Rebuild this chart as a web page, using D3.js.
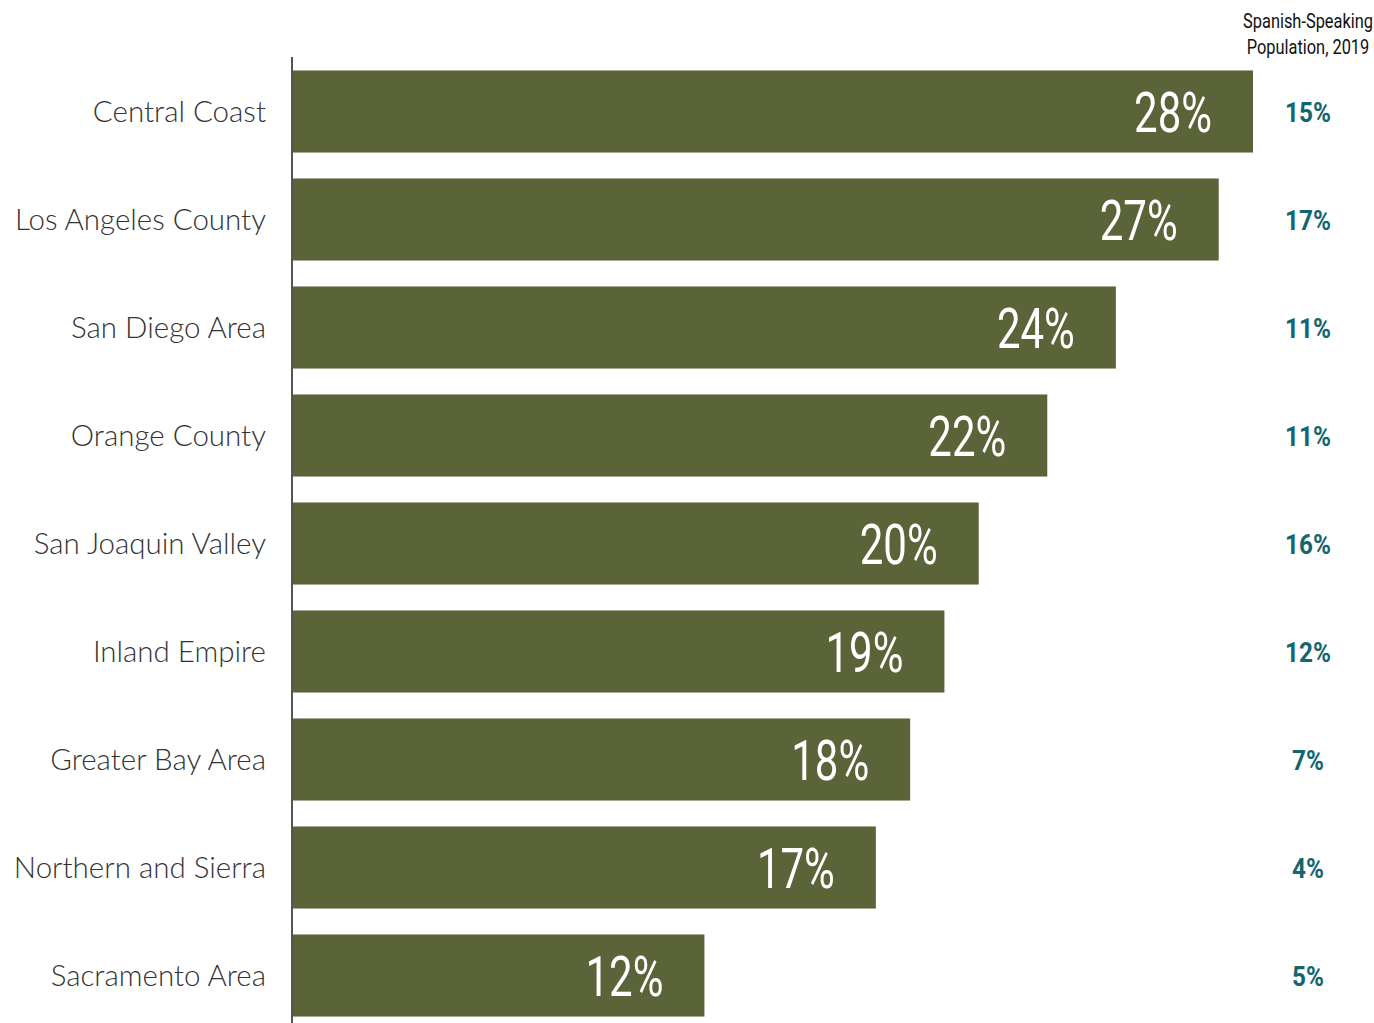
<!DOCTYPE html>
<html>
<head>
<meta charset="utf-8">
<script src="https://cdn.jsdelivr.net/npm/d3@7"></script>
<style>
  body { margin: 0; background: #fff; }
  svg { display: block; }
</style>
</head>
<body>
<div id="chart"></div>
<script>
// regions, share value, Spanish-speaking population
const regions = ["Central Coast", "Los Angeles County", "San Diego Area", "Orange County",
  "San Joaquin Valley", "Inland Empire", "Greater Bay Area", "Northern and Sierra", "Sacramento Area"];
const shares = [28, 27, 24, 22, 20, 19, 18, 17, 12];
const spanishPop = [15, 17, 11, 11, 16, 12, 7, 4, 5];
const sideTitle = ["Spanish-Speaking", "Population, 2019"];

const W = 1374, H = 1023;
const svg = d3.select("#chart").append("svg")
  .attr("width", W).attr("height", H);

const x = d3.scaleLinear().domain([0, 28]).range([293, 1253]);
const y = d3.scaleBand().domain(regions).range([57.5, 1029.5]).paddingInner(0.24).paddingOuter(0.12);

const barColor = "#5b6439";
const teal = "#13666d";
// no condensed face installed, so squeeze Roboto horizontally
const narrow = "Roboto, sans-serif";

svg.selectAll("rect.bar")
  .data(regions)
  .join("rect")
  .attr("class", "bar")
  .attr("x", x(0))
  .attr("y", d => y(d))
  .attr("width", (d, i) => x(shares[i]) - x(0))
  .attr("height", y.bandwidth())
  .attr("fill", barColor);

// vertical axis line
svg.append("line")
  .attr("x1", 292).attr("x2", 292)
  .attr("y1", 57).attr("y2", H)
  .attr("stroke", "#555").attr("stroke-width", 2);

// category labels
svg.selectAll("text.cat")
  .data(regions)
  .join("text")
  .attr("class", "cat")
  .attr("x", 266)
  .attr("y", d => y(d) + y.bandwidth() / 2)
  .attr("dy", "0.35em")
  .attr("text-anchor", "end")
  .style("font-family", "Lato, sans-serif")
  .style("font-weight", 300)
  .style("font-size", "29.5px")
  .attr("fill", "#333")
  .text(d => d);

// value labels inside bars
svg.selectAll("text.val")
  .data(regions)
  .join("text")
  .attr("class", "val")
  .attr("transform", (d, i) => `translate(${x(shares[i]) - 41},${y(d) + y.bandwidth() / 2}) scale(0.75,1)`)
  .attr("dy", "0.36em")
  .attr("text-anchor", "end")
  .style("font-family", narrow)
  .style("font-weight", 400)
  .style("font-size", "56px")
  .attr("fill", "#fff")
  .text((d, i) => shares[i] + "%");

// right column
svg.selectAll("text.pop")
  .data(regions)
  .join("text")
  .attr("class", "pop")
  .attr("transform", d => `translate(1308,${y(d) + y.bandwidth() / 2 + 1}) scale(0.9,1)`)
  .attr("dy", "0.36em")
  .attr("text-anchor", "middle")
  .style("font-family", narrow)
  .style("font-weight", "bold")
  .style("font-size", "27px")
  .attr("fill", teal)
  .text((d, i) => spanishPop[i] + "%");

svg.selectAll("text.head")
  .data(sideTitle)
  .join("text")
  .attr("class", "head")
  .attr("transform", (d, i) => `translate(1308,${28 + i * 26}) scale(0.78,1)`)
  .attr("text-anchor", "middle")
  .style("font-family", narrow)
  .style("font-size", "21px")
  .attr("fill", "#111")
  .text(d => d);
</script>
</body>
</html>
